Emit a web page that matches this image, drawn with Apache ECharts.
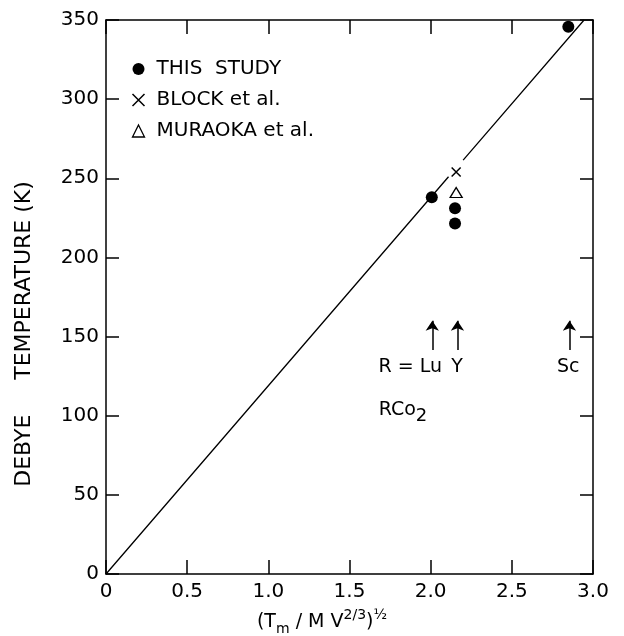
<!DOCTYPE html>
<html>
<head>
<meta charset="utf-8">
<style>
  html, body { margin: 0; padding: 0; background: #fff; }
  #chart { width: 624px; height: 636px; }
</style>
<script src="https://cdn.jsdelivr.net/npm/echarts@6/dist/echarts.min.js"></script>
</head>
<body>
<div id="chart"></div>
<script>
// Debye temperature of RCo2 compounds vs (Tm / M V^(2/3))^(1/2)
const thisStudy = [[2.007, 238], [2.15, 231], [2.15, 221.5], [2.848, 345.7]];
const blockEtAl = [[2.157, 254]];
const muraokaEtAl = [[2.157, 241]];
// Lindemann-type proportionality line, broken where it crosses the Block marker
const fitLine = [[0, 0], [2.11, 251], ['-', '-'], [2.20, 261.5], [2.945, 350]];
// Arrows marking the R elements
const arrows = [
  [[2.01, 141.5], [2.01, 160]],
  [[2.165, 141.5], [2.165, 160]],
  [[2.855, 141.5], [2.855, 160]]
];
const elementLabels = [
  { value: [2.07, 131], text: 'R = Lu', align: 'right' },
  { value: [2.163, 131], text: 'Y', align: 'center' },
  { value: [2.847, 131], text: 'Sc', align: 'center' }
];
const compoundLabel = { value: [1.68, 103.6], text: 'RCo{sub|2}' };
const xTicks = [0, 0.5, 1.0, 1.5, 2.0, 2.5, 3.0];
const yTicks = [0, 50, 100, 150, 200, 250, 300, 350];

const FONT = 'DejaVu Sans';
const crossPath = 'path://M0,0L10,10M10,0L0,10';

const chart = echarts.init(document.getElementById('chart'), null, { renderer: 'canvas' });

const axisLine = { show: true, onZero: false, lineStyle: { color: '#000', width: 1.5 } };
const tickStyle = { color: '#000', width: 1.5 };

const option = {
  backgroundColor: '#fff',
  animation: false,
  grid: { left: 106, right: 31, top: 20, bottom: 62, containLabel: false },
  xAxis: [
    {
      type: 'value', min: xTicks[0], max: xTicks[xTicks.length - 1], interval: 0.5,
      position: 'bottom',
      axisLine: axisLine,
      axisTick: { show: true, inside: true, length: 14, lineStyle: tickStyle },
      axisLabel: {
        color: '#000', fontFamily: FONT, fontSize: 20, margin: 8,
        formatter: v => (v === 0 ? '0' : v.toFixed(1))
      },
      splitLine: { show: false }
    },
    {
      type: 'value', min: xTicks[0], max: xTicks[xTicks.length - 1], interval: 0.5,
      position: 'top',
      axisLine: axisLine,
      axisTick: { show: true, inside: true, length: 14, lineStyle: tickStyle },
      axisLabel: { show: false },
      splitLine: { show: false }
    }
  ],
  yAxis: [
    {
      type: 'value', min: yTicks[0], max: yTicks[yTicks.length - 1], interval: 50,
      position: 'left',
      axisLine: axisLine,
      axisTick: { show: true, inside: true, length: 13, lineStyle: tickStyle },
      axisLabel: { color: '#000', fontFamily: FONT, fontSize: 20, margin: 7 },
      splitLine: { show: false }
    },
    {
      type: 'value', min: yTicks[0], max: yTicks[yTicks.length - 1], interval: 50,
      position: 'right',
      axisLine: axisLine,
      axisTick: { show: true, inside: true, length: 13, lineStyle: tickStyle },
      axisLabel: { show: false },
      splitLine: { show: false }
    }
  ],
  legend: {
    orient: 'vertical',
    left: 130,
    top: 59,
    padding: 0,
    itemWidth: 12,
    itemHeight: 12,
    itemGap: 11,
    selectedMode: false,
    textStyle: { color: '#000', fontFamily: FONT, fontSize: 20, lineHeight: 20, padding: [0, 0, 0, 7] },
    data: [
      { name: 'THIS  STUDY', icon: 'circle', itemStyle: { color: '#000', opacity: 1 } },
      { name: 'BLOCK et al.', icon: crossPath, itemStyle: { color: 'none', borderColor: '#000', borderWidth: 1.5, opacity: 1 } },
      { name: 'MURAOKA et al.', icon: 'triangle', itemStyle: { color: '#fff', borderColor: '#000', borderWidth: 1.3, opacity: 1 } }
    ]
  },
  series: [
    {
      type: 'line', name: 'fit', data: fitLine, showSymbol: false, symbol: 'none',
      lineStyle: { color: '#000', width: 1.3 }, connectNulls: false, silent: true, z: 1
    },
    {
      type: 'scatter', name: 'THIS  STUDY', data: thisStudy, symbol: 'circle', symbolSize: 12,
      itemStyle: { color: '#000', opacity: 1 }, z: 3
    },
    {
      type: 'scatter', name: 'BLOCK et al.', data: blockEtAl, symbol: crossPath, symbolSize: 9,
      itemStyle: { color: 'none', borderColor: '#000', borderWidth: 1.5, opacity: 1 }, z: 3
    },
    {
      type: 'scatter', name: 'MURAOKA et al.', data: muraokaEtAl, symbol: 'triangle', symbolSize: [12, 10],
      itemStyle: { color: '#fff', borderColor: '#000', borderWidth: 1.3, opacity: 1 }, z: 3
    },
    {
      type: 'lines', coordinateSystem: 'cartesian2d', silent: true,
      symbol: ['none', 'arrow'], symbolSize: [0, 10],
      lineStyle: { color: '#000', width: 1.5, opacity: 1 },
      data: arrows.map(c => ({ coords: c }))
    },
    {
      type: 'scatter', name: 'elements', silent: true, symbolSize: 0,
      itemStyle: { opacity: 1 },
      data: elementLabels.map(d => ({
        value: d.value,
        label: {
          show: true, position: [0, 0], formatter: d.text, align: d.align, verticalAlign: 'middle',
          color: '#000', fontFamily: FONT, fontSize: 19
        }
      }))
    },
    {
      type: 'scatter', name: 'compound', silent: true, symbolSize: 0,
      itemStyle: { opacity: 1 },
      data: [{
        value: compoundLabel.value,
        label: {
          show: true, position: [0, 0], formatter: compoundLabel.text, align: 'left', verticalAlign: 'middle',
          color: '#000', fontFamily: FONT, fontSize: 19, lineHeight: 30,
          rich: {
            sub: { fontFamily: FONT, fontSize: 18, color: '#000', verticalAlign: 'bottom', lineHeight: 16 }
          }
        }
      }]
    }
  ],
  graphic: [
    {
      type: 'text', x: 24, y: 334, rotation: Math.PI / 2,
      style: {
        text: 'DEBYE     TEMPERATURE (K)', fill: '#000',
        font: '22px "DejaVu Sans"', align: 'center', verticalAlign: 'middle'
      }
    },
    {
      type: 'text', x: 322, y: 622,
      style: {
        text: '(T{sub|m} / M V{sup|2/3}){sup|½}', fill: '#000',
        font: '19px "DejaVu Sans"', align: 'center', verticalAlign: 'middle', lineHeight: 28,
        rich: {
          sub: { fontSize: 14, fontFamily: FONT, verticalAlign: 'bottom', lineHeight: 13 },
          sup: { fontSize: 14, fontFamily: FONT, verticalAlign: 'top', lineHeight: 13 }
        }
      }
    }
  ]
};

chart.setOption(option);
</script>
</body>
</html>
